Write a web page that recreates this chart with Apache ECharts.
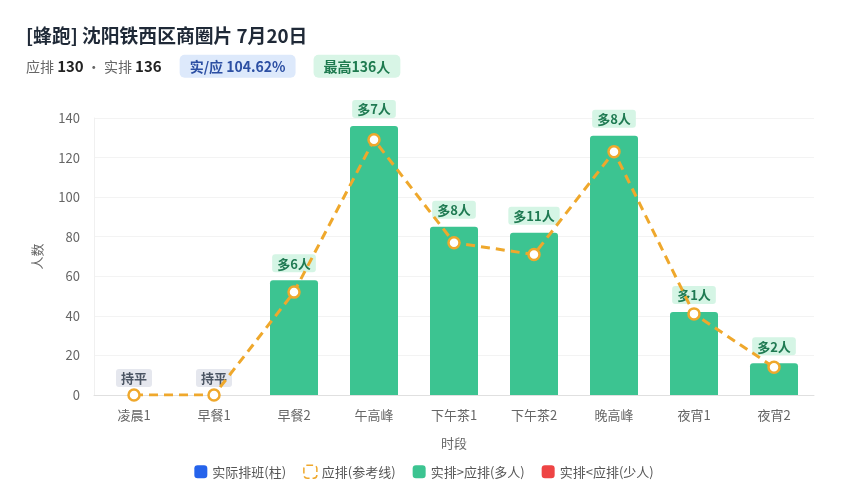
<!DOCTYPE html>
<html><head><meta charset="utf-8">
<script src="https://cdn.jsdelivr.net/npm/echarts@6/dist/echarts.min.js"></script>
<style>html,body{margin:0;padding:0;background:#fff}#c{width:848px;height:500px}</style>
</head><body><div id="c"></div>
<script>
const categories = ['凌晨1','早餐1','早餐2','午高峰','下午茶1','下午茶2','晚高峰','夜宵1','夜宵2'];
const actual = [0, 0, 58, 136, 85, 82, 131, 42, 16];
const planned = [0, 0, 52, 129, 77, 71, 123, 41, 14];
const yTicks = [0, 20, 40, 60, 80, 100, 120, 140];
const titleText = '[蜂跑] 沈阳铁西区商圈片 7月20日';
const planTotal = 130, actualTotal = 136, ratioText = '104.62%', peakText = '最高136人';

const GREEN = '#3cc491', RED = '#ee4444', BLUE = '#2563eb', ORANGE = '#efa82c';
const FONT = '"Noto Sans CJK SC","Noto Sans",sans-serif';

const barData = actual.map((v, i) => {
  const d = v - planned[i];
  let txt, bg, fg;
  if (d > 0) { txt = '多' + d + '人'; bg = '#d5f5e5'; fg = '#1f7a52'; }
  else if (d < 0) { txt = '少' + (-d) + '人'; bg = '#fde2e2'; fg = '#b91c1c'; }
  else { txt = '持平'; bg = '#e5e7ee'; fg = '#4b5563'; }
  return {
    value: v,
    itemStyle: { color: d > 0 ? GREEN : (d < 0 ? RED : BLUE) },
    label: { formatter: txt, backgroundColor: bg, color: fg }
  };
});

const chart = echarts.init(document.getElementById('c'));
chart.setOption({
  animation: false,
  textStyle: { fontFamily: FONT },
  title: {
    left: 26, top: 26, padding: 0,
    text: titleText,
    textStyle: { fontSize: 18.8, fontWeight: 'bold', color: '#1f2937', fontFamily: FONT },
    subtext: '{l|应排 }{b|' + planTotal + '}{l| · 实排 }{b|' + actualTotal + '}{s| }{r|实/应 ' + ratioText + '}{s| }{p|' + peakText + '}',
    itemGap: 10,
    subtextStyle: {
      fontFamily: FONT,
      rich: {
        l: { fontSize: 14, color: '#666', fontFamily: FONT },
        b: { fontSize: 15, color: '#222', fontWeight: 'bold', fontFamily: FONT },
        s: { width: 18 },
        r: { fontSize: 14, color: '#2c4fa3', fontWeight: 'bold', backgroundColor: '#dde9fb', padding: [5, 10, 4, 10], borderRadius: 5, fontFamily: FONT },
        p: { fontSize: 14, color: '#1e7a4f', fontWeight: 'bold', backgroundColor: '#d8f5e6', padding: [5, 10, 4, 10], borderRadius: 5, fontFamily: FONT }
      }
    }
  },
  legend: {
    bottom: 16, left: 'center',
    itemWidth: 13, itemHeight: 13, itemGap: 17,
    textStyle: { fontSize: 13, color: '#555', fontFamily: FONT },
    data: [
      { name: '实际排班(柱)', icon: 'roundRect', itemStyle: { color: BLUE } },
      { name: '应排(参考线)', icon: 'roundRect', itemStyle: { color: 'transparent', borderColor: ORANGE, borderWidth: 1.5, borderType: 'dashed' } },
      { name: '实排>应排(多人)', icon: 'roundRect', itemStyle: { color: GREEN } },
      { name: '实排<应排(少人)', icon: 'roundRect', itemStyle: { color: RED } }
    ]
  },
  grid: { left: 94, right: 34, top: 118, bottom: 105 },
  xAxis: {
    type: 'category', data: categories,
    name: '时段', nameLocation: 'middle', nameGap: 42,
    nameTextStyle: { color: '#666', fontSize: 13 },
    axisLine: { lineStyle: { color: '#e0e0e0' } },
    axisTick: { show: false },
    axisLabel: { color: '#666', fontSize: 13, margin: 14 }
  },
  yAxis: {
    type: 'value', min: 0, max: 140, interval: 20,
    name: '人数', nameLocation: 'middle', nameGap: 50,
    nameTextStyle: { color: '#666', fontSize: 13 },
    axisLine: { show: true, lineStyle: { color: '#f0f0f0' } },
    axisLabel: { color: '#666', fontSize: 13, margin: 14 },
    splitLine: { lineStyle: { color: '#f3f3f3' } }
  },
  series: [
    {
      name: '实际排班(柱)', type: 'bar', data: barData, barWidth: '60%',
      itemStyle: { borderRadius: [3, 3, 0, 0] },
      label: { show: true, position: 'top', distance: 8, fontSize: 13, fontWeight: 'bold', padding: [3, 5, 2, 5], borderRadius: 3, fontFamily: FONT },
      z: 2
    },
    {
      name: '应排(参考线)', type: 'line', data: planned,
      lineStyle: { color: ORANGE, width: 3, type: [9, 6] },
      symbol: 'circle', symbolSize: 11,
      itemStyle: { color: '#fff', borderColor: ORANGE, borderWidth: 2.5 },
      z: 3
    },
    { name: '实排>应排(多人)', type: 'scatter', data: [], itemStyle: { color: GREEN, opacity: 1 } },
    { name: '实排<应排(少人)', type: 'scatter', data: [], itemStyle: { color: RED, opacity: 1 } }
  ]
});
</script></body></html>
